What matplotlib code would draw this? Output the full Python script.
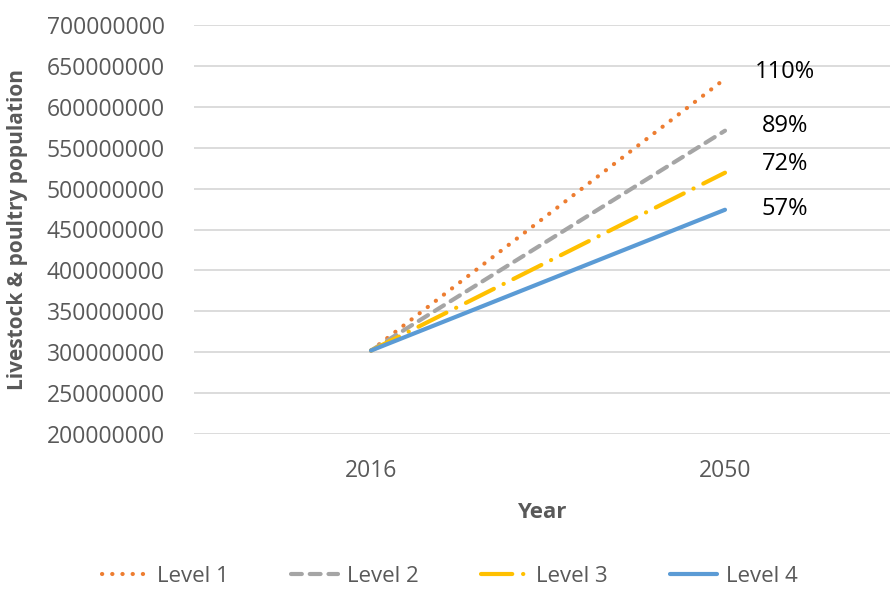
import matplotlib.pyplot as plt
from matplotlib.ticker import FuncFormatter

years = ["2016", "2050"]
level_names = ["Level 1", "Level 2", "Level 3", "Level 4"]
start_pop = 302000000
growth_pct = [110, 89, 72, 57]
colors = ["#ED7D31", "#A5A5A5", "#FFC000", "#5B9BD5"]
dashes = [(0.05, 2.4), (2.6, 1.9), (7.5, 2.6, 0.05, 2.6), None]

plt.rcParams["font.family"] = ["Open Sans", "DejaVu Sans"]
gray = "#595959"

fig = plt.figure(figsize=(8.9, 5.89), dpi=100)
ax = fig.add_axes([194 / 890, 1 - 434 / 589, 696 / 890, 409 / 589])

x = [0, 1]
for name, pct, c, d in zip(level_names, growth_pct, colors, dashes):
    vals = [start_pop, start_pop * (1 + pct / 100)]
    line, = ax.plot(x, vals, color=c, lw=3, label=name,
                    solid_capstyle="round", dash_capstyle="round")
    if d is not None:
        line.set_dashes(d)

# percentage labels next to the 2050 end points
label_y = [642000000, 577000000, 530000000, 475000000]
for pct, y in zip(growth_pct, label_y):
    ax.text(1.17, y, f"{pct}%", ha="center", va="center", fontsize=17, color="black")

ax.set_xlim(-0.5, -0.5 + 696 / 354)
ax.set_ylim(200000000, 700000000)
ax.set_yticks(range(200000000, 700000001, 50000000))
ax.yaxis.set_major_formatter(FuncFormatter(lambda v, p: f"{int(v)}"))
ax.set_xticks(x)
ax.set_xticklabels(years)
ax.grid(axis="y", color="#D9D9D9", lw=1.3)
ax.set_axisbelow(True)
for s in ax.spines.values():
    s.set_visible(False)
ax.tick_params(length=0, labelsize=16.5, colors=gray)
ax.tick_params(axis="y", pad=21)
ax.tick_params(axis="x", pad=18)

ax.set_ylabel("Livestock & poultry population", fontsize=15, fontweight="bold", color=gray)
ax.yaxis.set_label_coords((28 - 194) / 696, 0.5)
ax.set_xlabel("Year", fontsize=16, fontweight="bold", color=gray, labelpad=14)

fig.legend(loc="lower center", bbox_to_anchor=(0.505, -0.03), ncol=4, frameon=False,
           fontsize=16, labelcolor=gray, handlelength=2.1, columnspacing=2.8,
           handletextpad=0.4)

fig.savefig("out.png", dpi=100)
